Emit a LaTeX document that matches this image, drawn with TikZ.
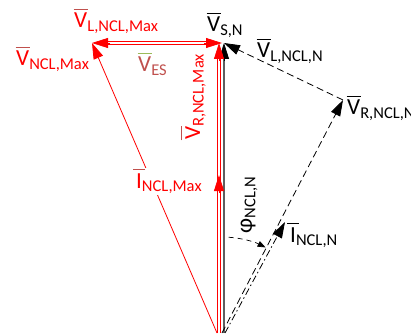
\documentclass[tikz,border=0pt]{standalone}
\usepackage{fontspec}
\setmainfont{Carlito}
\usetikzlibrary{arrows.meta}
\definecolor{pr}{RGB}{255,0,0}
\definecolor{brn}{RGB}{192,80,77}
\definecolor{olg}{RGB}{155,187,89}
\definecolor{vsgray}{RGB}{95,95,95}
\newcommand{\phs}[4]{%
  \leavevmode\setbox0\hbox{#2}%
  \hbox to \wd0{\hss\textcolor{#1}{\rule[18.5pt]{#4}{0.7pt}}\hss}\kern-\wd0\box0
  \raisebox{-3.5pt}{\fontsize{16.5}{16.5}\selectfont #3}}
\tikzset{
  lab/.style={inner sep=0pt, font=\fontsize{23}{23}\selectfont, anchor=base west},
  bigtip/.style={-{Triangle[length=16pt,width=10pt]}},
  redline/.style={pr, line width=0.8pt},
  dblred/.style={pr, line width=0.8pt, double=white, double distance=2.4pt},
  blkdash/.style={black, line width=0.8pt, dash pattern=on 7pt off 4pt},
  blkdashdot/.style={black, line width=0.8pt, dash pattern=on 7pt off 3pt on 1.5pt off 3pt},
}
\begin{document}
\begin{tikzpicture}[x=1pt,y=1pt]
\useasboundingbox (0,0) rectangle (411,335);
% points
\coordinate (O) at (219,2);
\coordinate (Ol) at (217,2);
\coordinate (Os) at (224,2);
\coordinate (Ord) at (222,2);
\coordinate (Oi) at (225,2);
\coordinate (T) at (219,292);
\coordinate (Tb) at (219,274);
\coordinate (Ts) at (224,292);
\coordinate (Tsb) at (224,274);
\coordinate (Hr) at (222,292);
\coordinate (Hrb) at (204,292);
\coordinate (Hl) at (92,292);
\coordinate (Hlb) at (110,292);
\coordinate (Im) at (219,160);
\coordinate (Imb) at (219,142);
\coordinate (R) at (343,235);
\coordinate (In) at (285,113);
% black V_S,N
\draw[vsgray, line width=1.2pt, shorten >=10pt] (Os) -- (Ts);
\draw[black, line width=0.8pt, bigtip] (Tsb) -- (Ts);
% red single V_NCL,Max
\draw[redline, bigtip] (Ol) -- (Hl);
% red double vertical V_R,NCL,Max
\draw[dblred, shorten >=10pt] (O) -- (T);
\draw[redline, bigtip] (Tb) -- (T);
% I_NCL,Max tip
\draw[redline, bigtip] (Imb) -- (Im);
% horizontal double
\draw[dblred, shorten >=10pt, shorten <=10pt] (Hl) -- (Hr);
\draw[redline, bigtip] (Hlb) -- (Hl);
\draw[redline, bigtip] (Hrb) -- (Hr);
% black dashed
\draw[blkdash, bigtip] (Ord) -- (R);
\draw[blkdash, bigtip] (R) -- (Ts);
\draw[blkdashdot, bigtip] (Oi) -- (In);
% angle arc
\draw[black, line width=0.7pt, dash pattern=on 5pt off 4pt, -{Triangle[length=8pt,width=6pt]}]
  ([shift={(86:96)}]Ord) arc[start angle=86, end angle=63, radius=96];
% labels
\node[lab] (lVS) at (207,303) {\phs{black}{V}{S,N}{14pt}};
\node[lab] (lVL) at (257,277) {\phs{black}{V}{L,NCL,N}{14pt}};
\node[lab] (lVR) at (347,220) {\phs{black}{V}{R,NCL,N}{14pt}};
\node[lab] (lIN) at (290,93) {\phs{black}{I}{NCL,N}{12pt}};
\node[lab, text=pr] (lVLM) at (74,307) {\phs{brn}{V}{L,NCL,Max}{14pt}};
\node[lab, text=pr] (lVNM) at (16,269) {\phs{brn}{V}{NCL,Max}{14pt}};
\node[lab, text=brn] (lVES) at (138,263) {\phs{olg}{V}{ES}{14pt}};
\node[lab, text=pr, fill=white, inner sep=1pt] (lINM) at (135,147) {\phs{brn}{I}{NCL,Max}{12pt}};
\node[lab, text=pr, rotate=90] (lVRM) at (200,195) {\phs{brn}{V}{R,NCL,Max}{14pt}};
\node[inner sep=0pt, font=\fontsize{23}{23}\selectfont, rotate=90] (lphi) at (249,130) {φ\raisebox{-3.5pt}{\fontsize{16.5}{16.5}\selectfont NCL,N}};
\end{tikzpicture}
\end{document}
